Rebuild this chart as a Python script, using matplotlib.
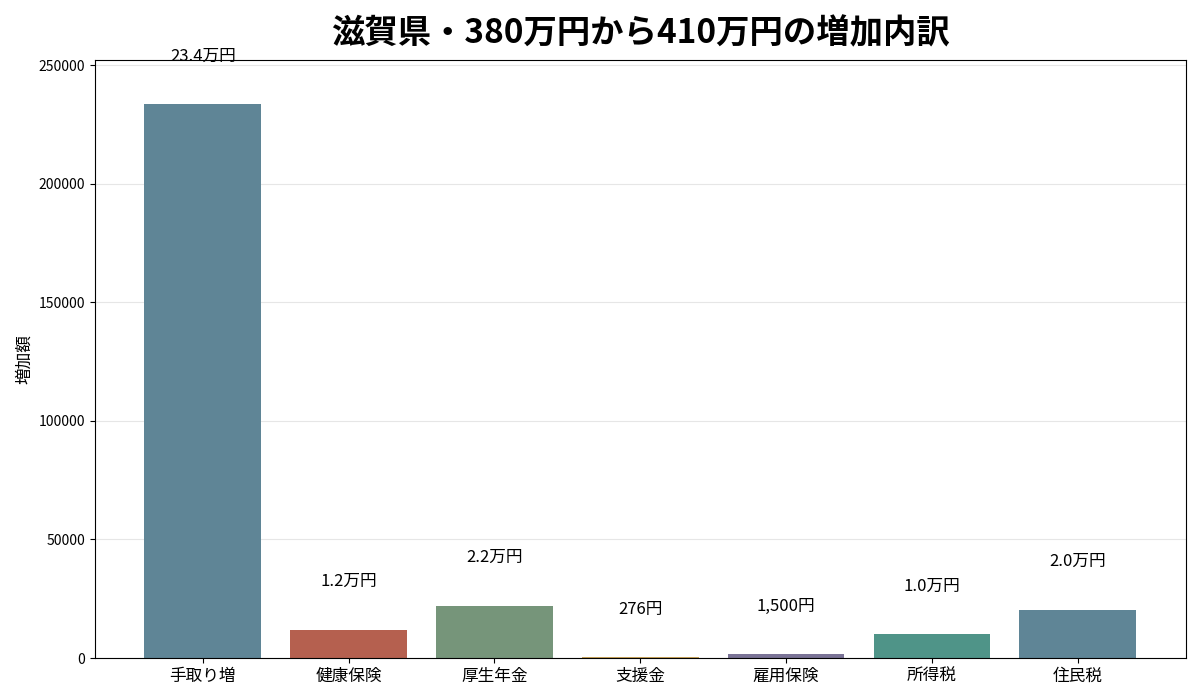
import matplotlib
matplotlib.use('Agg')
from matplotlib import pyplot as plt

plt.rcParams['font.family'] = ['Noto Sans CJK JP', 'DejaVu Sans']

# 増加内訳
categories = ['手取り増', '健康保険', '厚生年金', '支援金', '雇用保険', '所得税', '住民税']
values = [233500, 11900, 22000, 276, 1500, 10100, 20300]
labels = ['23.4万円', '1.2万円', '2.2万円', '276円', '1,500円', '1.0万円', '2.0万円']
colors = ['#5f8596', '#b5604f', '#76957a', '#c9a35a', '#7a7396', '#4f9488', '#5f8596']

fig, ax = plt.subplots(figsize=(12, 7), dpi=100)
x = range(len(categories))
ax.bar(x, values, color=colors, width=0.8)

top = max(values)
for i, v in enumerate(values):
    ax.text(i, v + top * 0.087, labels[i], ha='center', va='center', fontsize=12)

ax.set_xticks(list(x))
ax.set_xticklabels(categories, fontsize=12)
ax.tick_params(axis='y', labelsize=10)
ax.set_ylim(0, top * 1.08)
ax.set_ylabel('増加額', fontsize=12)
ax.grid(axis='y', color='#e6e6e6', linewidth=0.8)
ax.set_axisbelow(True)
ax.set_title('滋賀県・380万円から410万円の増加内訳', fontsize=24, fontweight='bold', pad=12)

plt.subplots_adjust(left=0.079, right=0.988, top=0.914, bottom=0.06)
plt.savefig('out.png')
